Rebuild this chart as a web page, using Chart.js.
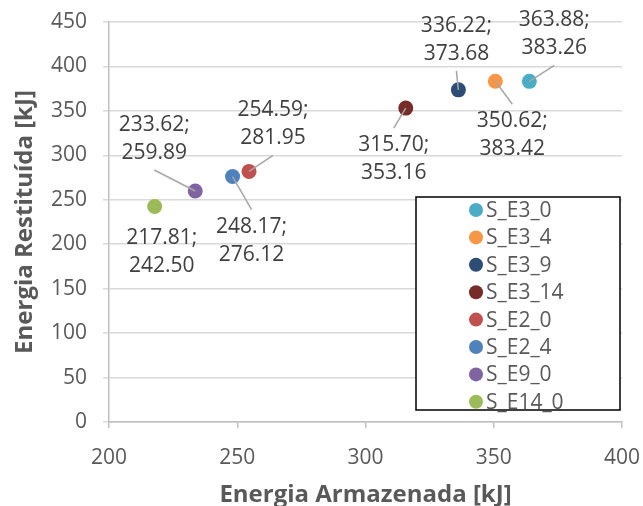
<!DOCTYPE html>
<html>
<head>
<meta charset="utf-8">
<script src="https://cdn.jsdelivr.net/npm/chart.js@4.4.1/dist/chart.umd.min.js"></script>
<style>
  html, body { margin: 0; padding: 0; background: #fff; }
  #wrap { width: 643px; height: 506px; }
</style>
</head>
<body>
<div id="wrap"><canvas id="chart" width="643" height="506"></canvas></div>
<script>
// dados
const seriesNames = ["S_E3_0", "S_E3_4", "S_E3_9", "S_E3_14", "S_E2_0", "S_E2_4", "S_E9_0", "S_E14_0"];
const energiaArmazenada = [363.88, 350.62, 336.22, 315.70, 254.59, 248.17, 233.62, 217.81];
const energiaRestituida = [383.26, 383.42, 373.68, 353.16, 281.95, 276.12, 259.89, 242.50];
const seriesColors = ["#4bacc6", "#f79646", "#2c4d75", "#772c2a", "#c0504d", "#4f81bd", "#8064a2", "#9bbb59"];

// posição dos rótulos (deslocamento em px) e linha de chamada
const labelLayout = [
  { dx: 25, dy: -47, leader: true },
  { dx: 17, dy: 54, leader: true },
  { dx: -2, dy: -50, leader: true },
  { dx: -12, dy: 51, leader: true },
  { dx: 24, dy: -47, leader: true },
  { dx: 19, dy: 64, leader: true },
  { dx: -41, dy: -52, leader: true },
  { dx: 7, dy: 46, leader: false }
];

const FONT = "'Open Sans', sans-serif";
const TEXT = "#595959";

// rótulos de dados estilo Excel
const dataLabelPlugin = {
  id: 'dataLabels',
  afterDatasetsDraw(chart) {
    const ctx = chart.ctx;
    ctx.save();
    chart.data.datasets.forEach((ds, i) => {
      const pt = chart.getDatasetMeta(i).data[0];
      const lay = labelLayout[i];
      const cx = pt.x + lay.dx;
      const cy = pt.y + lay.dy;
      if (lay.leader) {
        const sy = lay.dy < 0 ? cy + 31 : cy - 31;
        ctx.strokeStyle = "#a6a6a6";
        ctx.lineWidth = 1.5;
        ctx.beginPath();
        ctx.moveTo(cx, sy);
        ctx.lineTo(pt.x, pt.y);
        ctx.stroke();
      }
      ctx.fillStyle = "#404040";
      ctx.font = `21px ${FONT}`;
      ctx.textAlign = "center";
      ctx.textBaseline = "middle";
      const d = ds.data[0];
      ctx.fillText(d.x.toFixed(2) + ";", cx, cy - 14);
      ctx.fillText(d.y.toFixed(2), cx, cy + 14);
    });
    ctx.restore();
  }
};

// legenda dentro da área do gráfico
const boxLegendPlugin = {
  id: 'boxLegend',
  afterDraw(chart) {
    const ctx = chart.ctx;
    const a = chart.chartArea;
    const left = a.right - 206, top = a.bottom - 225, w = 204, h = 213;
    ctx.save();
    ctx.fillStyle = "#fff";
    ctx.fillRect(left, top, w, h);
    ctx.strokeStyle = "#000";
    ctx.lineWidth = 1.5;
    ctx.strokeRect(left, top, w, h);
    ctx.font = `21px ${FONT}`;
    ctx.textAlign = "left";
    ctx.textBaseline = "middle";
    chart.data.datasets.forEach((ds, i) => {
      const y = top + 13 + i * 27.4;
      ctx.fillStyle = ds.backgroundColor;
      ctx.beginPath();
      ctx.arc(left + 60, y, 7, 0, Math.PI * 2);
      ctx.fill();
      ctx.fillStyle = TEXT;
      ctx.fillText(ds.label, left + 70, y + 1);
    });
    ctx.restore();
  }
};

new Chart(document.getElementById("chart"), {
  type: 'scatter',
  data: {
    datasets: seriesNames.map((name, i) => ({
      label: name,
      data: [{ x: energiaArmazenada[i], y: energiaRestituida[i] }],
      backgroundColor: seriesColors[i],
      borderColor: seriesColors[i],
      pointRadius: 7.5,
      pointHoverRadius: 7.5,
      borderWidth: 0
    }))
  },
  options: {
    responsive: false,
    animation: false,
    layout: { padding: { left: 0, right: 21, top: 22, bottom: 0 } },
    plugins: {
      legend: { display: false },
      tooltip: { enabled: false }
    },
    scales: {
      x: {
        type: 'linear',
        min: 200,
        max: 400,
        ticks: { stepSize: 50, color: TEXT, font: { family: FONT, size: 21 }, padding: 17 },
        grid: { display: true, drawOnChartArea: false, drawTicks: true, tickLength: 6, color: "#bfbfbf", lineWidth: 1.5 },
        border: { color: "#bfbfbf", width: 1.5 },
        title: { display: true, text: "Energia Armazenada [kJ]", color: TEXT, font: { family: FONT, size: 24, weight: 'bold', lineHeight: 1 }, padding: { top: 0, bottom: -1 } },
        afterFit(scale) {
          scale.height = 84;
          scale.paddingLeft = 0;
          scale.paddingRight = 0;
        }
      },
      y: {
        type: 'linear',
        min: 0,
        max: 450,
        ticks: { stepSize: 50, color: TEXT, font: { family: FONT, size: 21 }, padding: 16 },
        grid: { color: "#d9d9d9", lineWidth: 1.5, tickLength: 6 },
        border: { color: "#bfbfbf", width: 1.5 },
        title: { display: true, text: "Energia Restituída [kJ]", color: TEXT, font: { family: FONT, size: 24, weight: 'bold', lineHeight: 1 }, padding: { top: 13, bottom: 0 } },
        afterFit(scale) {
          scale.width = 109;
          scale.paddingTop = 0;
          scale.paddingBottom = 0;
        }
      }
    }
  },
  plugins: [dataLabelPlugin, boxLegendPlugin]
});
</script>
</body>
</html>
